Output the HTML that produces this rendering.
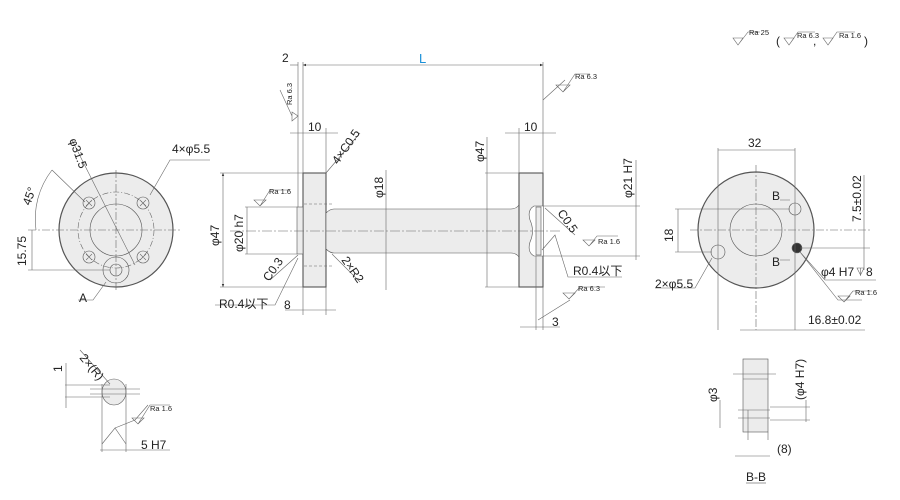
<!DOCTYPE html>
<html><head><meta charset="utf-8"><style>
html,body{margin:0;padding:0;background:#fff;}
svg{display:block;}
text{font-family:"Liberation Sans","Noto Sans CJK JP",sans-serif;fill:#222;}
</style></head><body>
<svg width="900" height="500" viewBox="0 0 900 500" xmlns="http://www.w3.org/2000/svg">
<defs>
<marker id="a" markerWidth="6" markerHeight="6" refX="5" refY="3" orient="auto-start-reverse"><path d="M0,1 L5,3 L0,5" fill="#333"/></marker>
</defs>
<g stroke="#666" stroke-width="0.6" fill="none">
<!-- ===== LEFT END VIEW ===== -->
<circle cx="116" cy="230" r="57" fill="#ececec" stroke="#555" stroke-width="1.2"/>
<circle cx="116" cy="230" r="38" stroke-dasharray="6 2 1 2"/>
<circle cx="116" cy="230" r="26" stroke="#555"/>
<g stroke="#555">
<circle cx="89" cy="203" r="6"/><circle cx="143" cy="203" r="6"/>
<circle cx="89" cy="257" r="6"/><circle cx="143" cy="257" r="6"/>
<circle cx="116" cy="270" r="13"/><circle cx="116" cy="270" r="6"/>
</g>
<path d="M86,200 L92,206 M92,200 L86,206 M140,200 L146,206 M146,200 L140,206 M86,254 L92,260 M92,254 L86,260 M140,254 L146,260 M146,254 L140,260"/>
<path d="M28,230 H180 M116,170 V292" stroke-dasharray="8 2 2 2"/>
<path d="M72,140 L135,265"/>
<path d="M150,195 L170,160 H210"/>
<path d="M106,282 L93,300 H78"/>
<path d="M52,170 A80,80 0 0 0 36,230"/>
<path d="M52,170 L85,202"/>
<path d="M28,270 H110 M32,230 V270"/>
<!-- ===== MAIN VIEW ===== -->
<rect x="303" y="173" width="23" height="114" fill="#ececec" stroke="#555" stroke-width="1.1"/>
<rect x="297" y="207" width="6" height="47" fill="#ececec" stroke="#555"/>
<path d="M326,213 Q330,209 334,209 H511 Q516,209 519,205 V257 Q516,253 511,253 H334 Q330,253 326,249 Z" fill="#ececec" stroke="#555"/>
<rect x="519" y="173" width="24" height="114" fill="#ececec" stroke="#555" stroke-width="1.1"/>
<path d="M543,206 H534 Q527,210 530,220 Q535,231 530,242 Q527,252 534,256 H543" fill="#fff" stroke="#555"/>
<rect x="536" y="207" width="5" height="48" fill="#ececec" stroke="#555"/>
<path d="M230,231 H560" stroke-dasharray="10 2 2 2"/>
<path d="M304,204 H333 M304,266 H333" stroke-dasharray="3 2"/>
<!-- dims -->
<path d="M298,62 V207 M303,62 V173 M543,62 V173"/>
<path d="M303,65 H543" marker-start="url(#a)" marker-end="url(#a)"/>
<path d="M290,65 H298"/>
<path d="M290,133 H338 M303,133 H326"/>
<path d="M326,128 V173"/>
<path d="M505,133 H556"/>
<path d="M519,128 V173"/>
<path d="M220,173 H303 M220,287 H303"/>
<path d="M223,173 V287" marker-start="url(#a)" marker-end="url(#a)"/>
<path d="M245,207 H297 M245,254 H297"/>
<path d="M247,207 V254"/>
<path d="M386,170 V290"/>
<path d="M487,137 V287 M485,173 H519 M485,287 H519"/>
<path d="M543,206 H640 M543,256 H640 M636,160 V260"/>
<path d="M303,287 V315 M326,287 V315 M285,310 H336"/>
<path d="M536,256 V330 M543,287 V330 M520,327 H560"/>
<path d="M326,173 L360,133 M332,254 L360,282 M298,255 L270,280 M298,258 L275,305 H215 M545,208 L575,235 M542,250 L555,235 L568,277 H622 M543,100 L565,80 M538,320 L570,300"/>
<!-- ===== RIGHT END VIEW ===== -->
<circle cx="756" cy="230" r="58" fill="#ececec" stroke="#555" stroke-width="1.2"/>
<circle cx="756" cy="230" r="26" stroke="#555"/>
<circle cx="795" cy="209" r="6" stroke="#555"/>
<circle cx="718" cy="252" r="7" stroke="#555"/>
<circle cx="797" cy="248" r="5" fill="#333"/>
<path d="M690,230 H870 M756,165 V330" stroke-dasharray="8 2 2 2"/>
<path d="M718,148 V330 M795,148 V330 M718,150 H795"/>
<path d="M675,209 H790 M675,252 H712 M678,209 V252"/>
<path d="M800,248 H870 M864,175 V270"/>
<path d="M780,200 H790 M780,260 H790"/>
<path d="M740,330 H865"/>
<path d="M712,258 L695,288 H655 M800,252 L838,300 H862 M800,252 L825,280 H876"/>
<!-- ===== DETAIL ===== -->
<ellipse cx="114" cy="392" rx="12" ry="13" fill="#ececec" stroke="#555"/>
<path d="M90,389 H140 M90,394 H140 M65,385 H110 M65,397 H110 M66,363 V408"/>
<path d="M102,384 V452 M126,384 V452 M100,450 H170"/>
<path d="M80,350 L110,384"/>
<path d="M102,444 L115,428 L126,444 M115,428 L135,420 L148,405"/>
<!-- ===== B-B ===== -->
<rect x="743" y="359" width="25" height="73" fill="#ececec" stroke="#555"/>
<path d="M733,374 H776 M743,379 H768" />
<path d="M748,410 H770 M748,418 H770 M738,410 H748 M738,418 H748"/>
<path d="M720,400 V428 M748,410 V440 M768,432 V440 M735,456 H770"/>
<path d="M806,400 V422 M770,407 H810 M770,420 H810"/>
<path d="M746,483 H766" stroke="#333"/>
</g>
<!-- surface symbols -->
<g stroke="#666" stroke-width="0.6" fill="none">
<path d="M733,38 H743 L738,45 Z M738,45 L748,32 H760"/>
<path d="M784,38 H794 L789,45 Z M789,45 L798,32 H815"/>
<path d="M823,38 H833 L828,45 Z M828,45 L837,32 H855"/>
<path d="M556,85 L563,92 L570,85 Z M563,92 L575,74 H590"/>
<path d="M292,112 L298,116 L292,121 Z M292,116 L280,90"/>
<path d="M254,200 L260,206 L266,200 Z M260,206 L270,190 H290"/>
<path d="M583,240 L589,246 L595,240 Z M589,246 L597,236 H618"/>
<path d="M563,293 L569,299 L575,293 Z M569,299 L580,287 H605"/>
<path d="M838,296 L844,302 L850,296 Z M844,302 L853,291 H872"/>
<path d="M132,418 L138,424 L144,418 Z M138,424 L150,405 H170"/>
<path d="M857,268 H864 L860.5,275 Z M860.5,268 V276"/>
</g>
<g font-size="12">
<text x="419" y="63" fill="#1a90d8" style="fill:#1a90d8" font-size="13">L</text>
<text x="282" y="62">2</text>
<text x="308" y="131">10</text>
<text x="524" y="131">10</text>
<text x="284" y="309">8</text>
<text x="552" y="326">3</text>
<text x="219" y="308">R0.4以下</text>
<text x="573" y="275">R0.4以下</text>
<text transform="translate(219,246) rotate(-90)">φ47</text>
<text transform="translate(243,252) rotate(-90)">φ20 h7</text>
<text transform="translate(383,198) rotate(-90)">φ18</text>
<text transform="translate(484,162) rotate(-90)">φ47</text>
<text transform="translate(632,198) rotate(-90)">φ21 H7</text>
<text transform="translate(338,165) rotate(-55)">4×C0.5</text>
<text transform="translate(341,260) rotate(55)">2×R2</text>
<text transform="translate(269,282) rotate(-55)">C0.3</text>
<text transform="translate(557,213) rotate(55)">C0.5</text>
<text x="172" y="153">4×φ5.5</text>
<text transform="translate(69,140) rotate(70)">φ31.5</text>
<text transform="translate(30,206) rotate(-70)">45°</text>
<text transform="translate(26,266) rotate(-90)">15.75</text>
<text x="79" y="302">A</text>
<text x="748" y="147">32</text>
<text transform="translate(673,242) rotate(-90)">18</text>
<text transform="translate(861,222) rotate(-90)">7.5±0.02</text>
<text x="655" y="288">2×φ5.5</text>
<text x="821" y="276">φ4 H7</text>
<text x="866" y="276">8</text>
<text x="808" y="324">16.8±0.02</text>
<text x="772" y="200">B</text>
<text x="772" y="266">B</text>
<text transform="translate(62,372) rotate(-90)">1</text>
<text transform="translate(79,358) rotate(50)">2×(R)</text>
<text x="141" y="449">5 H7</text>
<text transform="translate(717,402) rotate(-90)">φ3</text>
<text transform="translate(804,400) rotate(-90)">(φ4 H7)</text>
<text x="777" y="453">(8)</text>
<text x="746" y="481">B-B</text>
<text x="813" y="45">,</text>
<text x="776" y="45">(</text>
<text x="864" y="45">)</text>
</g>
<g font-size="7.5">
<text x="749" y="35">Ra 25</text>
<text x="797" y="38">Ra 6.3</text>
<text x="839" y="38">Ra 1.6</text>
<text x="575" y="79">Ra 6.3</text>
<text transform="translate(292,105) rotate(-90)">Ra 6.3</text>
<text x="269" y="194">Ra 1.6</text>
<text x="598" y="244">Ra 1.6</text>
<text x="578" y="291">Ra 6.3</text>
<text x="855" y="295">Ra 1.6</text>
<text x="150" y="411">Ra 1.6</text>
</g>
</svg>
</body></html>
